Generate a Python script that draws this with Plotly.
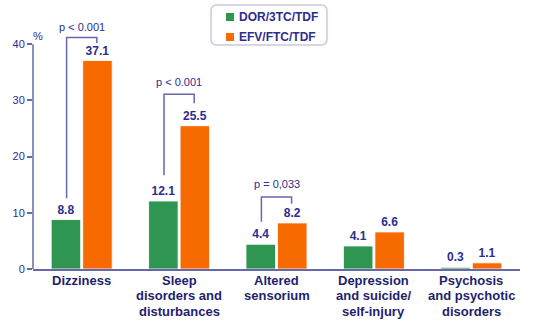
import plotly.graph_objects as go

categories = ["Dizziness", "Sleep<br>disorders and<br>disturbances", "Altered<br>sensorium",
              "Depression<br>and suicide/<br>self-injury", "Psychosis<br>and psychotic<br>disorders"]
dor = [8.8, 12.1, 4.4, 4.1, 0.3]
efv = [37.1, 25.5, 8.2, 6.6, 1.1]
series_names = ["DOR/3TC/TDF", "EFV/FTC/TDF"]
y_ticks = [0, 10, 20, 30, 40]

# p-value brackets: category index, label, top, left-leg bottom, right-leg bottom, label height
br_cat = [0, 1, 2]
br_label = ["p < 0.001", "p < 0.001", "p = 0,033"]
br_top = [41.2, 31.1, 12.8]
br_left_bottom = [12.6, 16.7, 8.4]
br_right_bottom = [40.2, 29.5, 11.6]
br_text_y = [43.1, 33.2, 15.1]

GREEN = "#2e9650"
ORANGE = "#f76a00"
NAVY = "#2d2d8f"
DARKNAVY = "#1f1f6e"
AXIS = "#6767ad"
FONT = "Liberation Sans, Arial, sans-serif"

W, H = 536, 328
ML, MR, MT, MB = 33, 16, 0, 59
PW, PH = W - ML - MR, H - MT - MB
PX_PER_UNIT = 5.62
YMAX = PH / PX_PER_UNIT

def px_x(px):
    return (px - ML) / PW

def px_y(py):
    return (H - MB - py) / PH

x_idx = list(range(len(categories)))

fig = go.Figure()
for vals, name, col in [(dor, series_names[0], GREEN), (efv, series_names[1], ORANGE)]:
    fig.add_trace(go.Bar(
        x=x_idx, y=vals, name=name,
        marker=dict(color=col, line=dict(color="rgba(255,255,255,0.85)", width=1)),
        text=[f"{v:.1f}" for v in vals], textposition="outside",
        textfont=dict(family=FONT, size=12, color=NAVY, weight="bold"),
        cliponaxis=False, showlegend=False,
    ))

shapes = []
# y axis line from 0 to 40
shapes.append(dict(type="line", xref="paper", yref="y", x0=0, x1=0, y0=0, y1=y_ticks[-1],
                   line=dict(color=AXIS, width=1.5)))

annotations = []
OFF = 0.155
for c, lab, top, lb, rb, ty in zip(br_cat, br_label, br_top, br_left_bottom, br_right_bottom, br_text_y):
    xl, xr = c - OFF, c + OFF
    shapes.append(dict(type="path", xref="x", yref="y",
                       path=f"M {xl},{lb} L {xl},{top} L {xr},{top} L {xr},{rb}",
                       line=dict(color=AXIS, width=1.5)))
    annotations.append(dict(x=c, y=ty, xref="x", yref="y", text=lab, showarrow=False,
                            font=dict(family=FONT, size=11, color=NAVY)))

annotations.append(dict(x=px_x(30.7), y=px_y(28), xref="paper", yref="paper", text="%",
                        showarrow=False, font=dict(family=FONT, size=11, color=NAVY)))

# category labels, one annotation per line for tight line spacing
for c, lab in zip(x_idx, categories):
    for j, line in enumerate(lab.split("<br>")):
        annotations.append(dict(x=c, y=px_y(280.5 + 15.3 * j), xref="x", yref="paper", text=line,
                                showarrow=False, xanchor="center", yanchor="middle",
                                font=dict(family=FONT, size=13, color=DARKNAVY, weight="bold")))

# legend box (rounded)
bx0, bx1, by0, by1, r = 211, 327, 5, 45, 6
def P(px, py):
    return f"{px_x(px)},{px_y(py)}"
path = (f"M {P(bx0 + r, by0)} L {P(bx1 - r, by0)} Q {P(bx1, by0)} {P(bx1, by0 + r)} "
        f"L {P(bx1, by1 - r)} Q {P(bx1, by1)} {P(bx1 - r, by1)} "
        f"L {P(bx0 + r, by1)} Q {P(bx0, by1)} {P(bx0, by1 - r)} "
        f"L {P(bx0, by0 + r)} Q {P(bx0, by0)} {P(bx0 + r, by0)} Z")
shapes.append(dict(type="path", xref="paper", yref="paper", path=path,
                   line=dict(color="#c9c9dc", width=1.5), fillcolor="white"))
for i, (name, col) in enumerate(zip(series_names, [GREEN, ORANGE])):
    cy = 17 + 20 * i
    shapes.append(dict(type="rect", xref="paper", yref="paper",
                       x0=px_x(226), x1=px_x(234), y0=px_y(cy - 4), y1=px_y(cy + 4),
                       fillcolor=col, line=dict(width=0)))
    annotations.append(dict(x=px_x(237), y=px_y(cy), xref="paper", yref="paper", text=name,
                            xanchor="left", yanchor="middle", showarrow=False,
                            font=dict(family=FONT, size=12, color=NAVY, weight="bold")))

fig.update_layout(
    width=W, height=H, margin=dict(l=ML, r=MR, t=MT, b=MB),
    paper_bgcolor="white", plot_bgcolor="white",
    barmode="group", bargap=0.353, bargroupgap=0.063,
    shapes=shapes, annotations=annotations, showlegend=False,
    xaxis=dict(range=[-0.5, 4.5], tickvals=x_idx, showticklabels=False, showline=True,
               linecolor=AXIS, linewidth=1.5, ticks="", showgrid=False, zeroline=False),
    yaxis=dict(range=[0, YMAX], tickvals=y_ticks, ticks="outside", ticklen=5, tickwidth=1.5,
               tickcolor=AXIS, showline=False, showgrid=False, zeroline=False,
               tickfont=dict(family=FONT, size=11, color=NAVY)),
)

fig.write_html("out.html")
